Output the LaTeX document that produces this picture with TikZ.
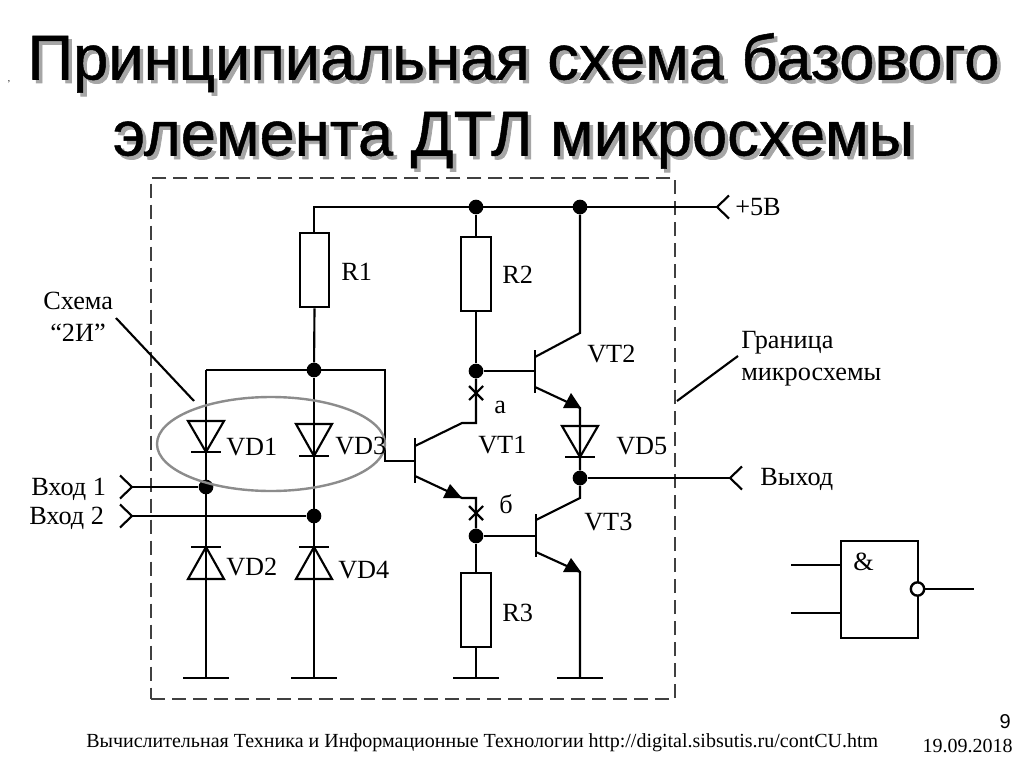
\documentclass[tikz,border=0pt]{standalone}
\usepackage{fontspec}
\setmainfont{Liberation Serif}
\newfontfamily\titlefont[RawFeature={embolden=0.8}]{Liberation Sans}
\newfontfamily\shadowfont[RawFeature={embolden=1.2}]{Liberation Sans}
\newfontfamily\plainsans{Liberation Sans}
\tikzset{
  wire/.style={line width=1.6pt,line cap=butt,line join=miter},
  dotn/.style={circle,fill=black,draw=none,inner sep=0pt,minimum size=11pt},
  resbox/.style={draw,line width=1.6pt,fill=white,inner sep=0pt,minimum width=22pt,minimum height=56pt},
  lab/.style={font=\fontsize{19.7pt}{22pt}\selectfont,inner sep=0pt,anchor=base west},
  titletxt/.style={font=\titlefont\fontsize{47.5pt}{50pt}\selectfont,inner sep=0pt,anchor=base},
  shadowtxt/.style={font=\shadowfont\fontsize{47.5pt}{50pt}\selectfont,inner sep=0pt,anchor=base,text=black!35},
}
\newcommand{\diodeshape}[3]{% x, triangle base y, apex y
  \draw[wire] (#1-18,#2) -- (#1+18,#2) -- (#1,#3) -- cycle;
  \draw[wire] (#1-15,#3) -- (#1+15,#3);
}
\newcommand{\xmark}[2]{%
  \draw[wire] (#1-7,#2-7) -- (#1+7,#2+7) (#1-7,#2+7) -- (#1+7,#2-7);
}
\newcommand{\chevron}[2]{% tip x, y ; opens left
  \draw[wire] (#1-12,#2-11.5) -- (#1,#2) -- (#1-12,#2+11.5);
}
\newcommand{\chevronr}[2]{% tip x, y ; opens right
  \draw[wire] (#1+12,#2-11.5) -- (#1,#2) -- (#1+12,#2+11.5);
}
\begin{document}
\begin{tikzpicture}[x=0.75pt,y=-0.75pt]
\useasboundingbox (0,0) rectangle (1024,767);
\fill[white] (0,0) rectangle (1024,767);
% title shadow and text
\node[shadowtxt] (shadow1) at (517,83) {Принципиальная схема базового};
\node[shadowtxt] (shadow2) at (517,159) {элемента ДТЛ микросхемы};
\node[titletxt] (title1) at (513.5,79.5) {Принципиальная схема базового};
\node[titletxt] (title2) at (513.5,155.5) {элемента ДТЛ микросхемы};
\node[font=\fontsize{7pt}{8pt}\selectfont,inner sep=0pt] (tick) at (9,82) {,};
% boundary
\node[draw=black!75,line width=1.6pt,dash pattern=on 10.5pt off 5.25pt,minimum width=393pt,minimum height=391pt,inner sep=0pt] (bound) at (413,438.5) {};
% junctions
\node[dotn] (j1) at (476,207) {};
\node[dotn] (j2) at (580,207) {};
\node[dotn] (j3) at (314,370) {};
\node[dotn] (j4) at (476,371) {};
\node[dotn] (j5) at (206,487) {};
\node[dotn] (j6) at (314,516) {};
\node[dotn] (j7) at (476,536) {};
\node[dotn] (j8) at (580,478) {};
% resistors
\node[resbox] (R1) at (314.5,270) {};
\node[resbox] (R2) at (476,274) {};
\node[resbox] (R3) at (476,610) {};
% terminals
\coordinate (tp) at (717,207);
\coordinate (tout) at (730,478);
\coordinate (tin1) at (132,487);
\coordinate (tin2) at (132,516);
\coordinate (g1) at (206,678);
\coordinate (g2) at (314,678);
\coordinate (g3) at (476,678);
\coordinate (g4) at (580,678);
% wires
\draw[wire] (tp) -- (314,207) -- (R1.north -| 314,207);
\draw[wire] (R1.south) -- (j3);
\draw[wire] (j1) -- (R2.north);
\draw[wire] (R2.south) -- (j4);
\draw[wire] (j2) -- (580,333) -- (535,357);
\draw[wire] (206,370) -- (385,370) -- (385,461) -- (415,461);
\draw[wire] (g1) -- (206,370);
\draw[wire] (g2) -- (j3);
\draw[wire] (tin1) -- (j5);
\draw[wire] (tin2) -- (j6);
\draw[wire] (j4) -- (535,371);
\draw[wire] (j4) -- (476,423) -- (462,423) -- (415,446);
\draw[wire] (415,476) -- (462,498) -- (476,498) -- (j7);
\draw[wire] (j7) -- (536,536);
\draw[wire] (j7) -- (R3.north);
\draw[wire] (R3.south) -- (g3);
\draw[wire] (535,387) -- (580,408) -- (j8);
\draw[wire] (j8) -- (tout);
\draw[wire] (j8) -- (580,498) -- (536,520);
\draw[wire] (536,552) -- (580,572) -- (g4);
% arrowheads
\fill (462,498) -- (443,498) -- (450,484) -- cycle;
\fill (581,408) -- (563,408) -- (571,393) -- cycle;
\fill (581,572) -- (563,572) -- (571,558) -- cycle;
% transistor bars
\draw[line width=2pt] (415,438) -- (415,483);
\draw[line width=2pt] (535,350) -- (535,393);
\draw[line width=2pt] (536,514) -- (536,557);
% diodes
\diodeshape{206}{421}{452}
\diodeshape{314}{424}{456}
\diodeshape{580}{426}{457}
\diodeshape{206}{579}{547}
\diodeshape{314}{579}{547}
% crosses
\xmark{476}{393}
\xmark{476}{513}
% grounds
\draw[wire] (183,678) -- (229,678);
\draw[wire] (291,678) -- (337,678);
\draw[wire] (453,678) -- (499,678);
\draw[wire] (557,678) -- (603,678);
% chevrons
\chevronr{717}{207}
\chevronr{730}{478}
\chevron{132}{487}
\chevron{132}{516}
% ellipse
\draw[line width=1.8pt,black!45] (271,444) ellipse [x radius=114,y radius=47];
% pointers
\coordinate (p1a) at (116,318);
\coordinate (p1b) at (194,401);
\coordinate (p2a) at (738,356);
\coordinate (p2b) at (677,401);
\draw[wire] (p1a) -- (p1b);
\draw[wire] (p2a) -- (p2b);
% labels
\node[lab] (lR1) at (341,280) {R1};
\node[lab] (lR2) at (502,283) {R2};
\node[lab] (lR3) at (502,621) {R3};
\node[lab] (lVD1) at (226,455) {VD1};
\node[lab] (lVD3) at (335,454) {VD3};
\node[lab] (lVD5) at (616,454) {VD5};
\node[lab] (lVD2) at (226,575) {VD2};
\node[lab] (lVD4) at (338,578) {VD4};
\node[lab] (lVT1) at (478,453) {VT1};
\node[lab] (lVT2) at (587,362) {VT2};
\node[lab] (lVT3) at (584,530) {VT3};
\node[lab] (la) at (494,413) {а};
\node[lab] (lb) at (499,513) {б};
\node[lab] (lp5) at (735,215) {+5В};
\node[lab] (lout) at (760,485) {Выход};
\node[lab] (lin1) at (31,495) {Вход 1};
\node[lab] (lin2) at (29,524) {Вход 2};
\node[lab] (ls1) at (43,309) {Схема};
\node[lab] (ls2) at (50,341) {“2И”};
\node[lab] (lg1) at (741,348) {Граница};
\node[lab] (lg2) at (741,380) {микросхемы};
% gate
\node[draw,line width=1.8pt,fill=white,minimum width=57.5pt,minimum height=72.75pt,inner sep=0pt] (gate) at (879.5,589.5) {};
\node[lab] (amp) at (853,570) {\&};
\coordinate (gi1) at (791,565);
\coordinate (gi2) at (791,613);
\coordinate (go) at (974,589);
\draw[wire] (gi1) -- (gate.west |- gi1);
\draw[wire] (gi2) -- (gate.west |- gi2);
\draw[wire] (918,589) -- (go);
\node[circle,draw,line width=1.8pt,fill=white,minimum size=10pt,inner sep=0pt] (inv) at (917.5,589) {};
% footer
\node[font=\fontsize{15pt}{17pt}\selectfont,inner sep=0pt,anchor=base west] (foot) at (86,747) {Вычислительная Техника и Информационные Технологии http://digital.sibsutis.ru/contCU.htm};
\node[font=\fontsize{15pt}{17pt}\selectfont,inner sep=0pt,anchor=base east] (date) at (1013,752) {19.09.2018};
\node[font=\plainsans\fontsize{15pt}{17pt}\selectfont,inner sep=0pt,anchor=base east] (num) at (1011,728) {9};
\end{tikzpicture}
\end{document}
